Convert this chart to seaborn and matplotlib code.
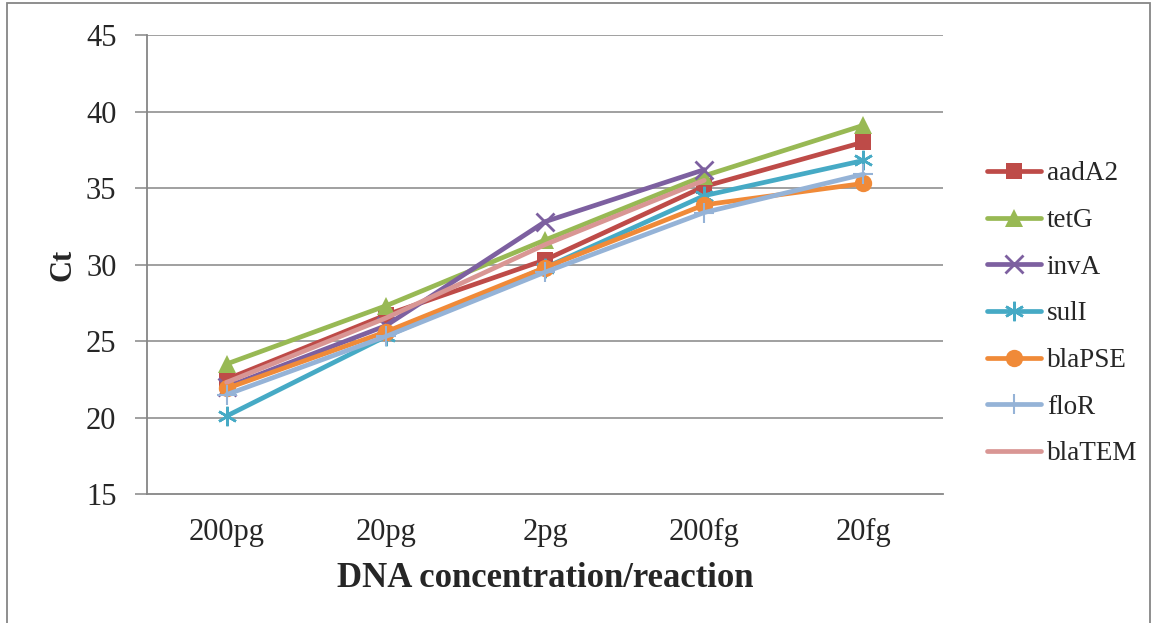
import numpy as np
import pandas as pd
import matplotlib
matplotlib.use("Agg")
import matplotlib.pyplot as plt
import seaborn as sns
from matplotlib.patches import Rectangle

# Template DNA amount per reaction (dilution series)
concentrations = ["200pg", "20pg", "2pg", "200fg", "20fg"]

# Ct values per target gene (NaN = not detected)
aadA2 = [22.5, 26.7, 30.3, 35.1, 38.0]
tetG = [23.5, 27.3, 31.6, 35.8, 39.1]
invA = [22.0, 26.0, 32.8, 36.2, np.nan]
sulI = [20.1, 25.3, 29.8, 34.5, 36.8]
blaPSE = [21.9, 25.6, 29.8, 33.9, 35.3]
floR = [21.5, 25.3, 29.5, 33.4, 35.9]
blaTEM = [22.3, 26.5, 31.3, 35.5, np.nan]

genes = ["aadA2", "tetG", "invA", "sulI", "blaPSE", "floR", "blaTEM"]
values = [aadA2, tetG, invA, sulI, blaPSE, floR, blaTEM]

colors = {
    "aadA2": "#BE4B48",
    "tetG": "#98B954",
    "invA": "#7D60A0",
    "sulI": "#46AAC5",
    "blaPSE": "#F08A38",
    "floR": "#95B3D7",
    "blaTEM": "#D99694",
}
markers = {
    "aadA2": dict(marker="s", markersize=12, markeredgewidth=0),
    "tetG": dict(marker="^", markersize=13, markeredgewidth=0),
    "invA": dict(marker="x", markersize=13, markeredgewidth=2),
    "sulI": dict(marker=(6, 2, 0), markersize=14, markeredgewidth=1.8),
    "blaPSE": dict(marker="o", markersize=12.5, markeredgewidth=0),
    "floR": dict(marker="+", markersize=15, markeredgewidth=1.5),
    "blaTEM": dict(marker="None"),
}

rows = []
for g, vals in zip(genes, values):
    for i, v in enumerate(vals):
        rows.append({"gene": g, "pos": i, "Ct": v})
df = pd.DataFrame(rows)

sns.set_style("white")
plt.rcParams["font.family"] = ["Liberation Serif", "DejaVu Serif"]

fig = plt.figure(figsize=(11.55, 6.23), dpi=100)
ax = fig.add_axes([0.1273, 0.207, 0.6892, 0.7368])

grid_col = "#868686"
for y in range(20, 50, 5):
    ax.axhline(y, color=grid_col, linewidth=1.1, zorder=0)

for g in genes:
    sub = df[df["gene"] == g].dropna()
    sns.lineplot(data=sub, x="pos", y="Ct", ax=ax, color=colors[g],
                 linewidth=3.4, label=g, solid_capstyle="round",
                 solid_joinstyle="round", markeredgecolor=colors[g],
                 **markers[g])

ax.set_xlim(-0.5, 4.5)
ax.set_ylim(15, 45)
ax.set_yticks(range(15, 50, 5))
ax.set_xticks(range(len(concentrations)))
ax.set_xticklabels(concentrations)
ax.tick_params(axis="y", direction="out", length=9, width=1.1, color=grid_col,
               labelsize=22, pad=13, left=True)
ax.tick_params(axis="x", length=0, labelsize=22, pad=17)

for s in ["top", "right"]:
    ax.spines[s].set_visible(False)
for s in ["left", "bottom"]:
    ax.spines[s].set_color(grid_col)
    ax.spines[s].set_linewidth(1.3)

ax.set_xlabel("DNA concentration/reaction", fontsize=25, fontweight="bold",
              labelpad=11)
ax.set_ylabel("Ct", fontsize=22, fontweight="bold", labelpad=6)

leg = ax.legend(loc="center left", bbox_to_anchor=(0.843, 0.496),
                bbox_transform=fig.transFigure, frameon=False, fontsize=19.5,
                handlelength=2.0, labelspacing=0.8, handletextpad=0.2,
                borderpad=0)

# outer chart border
fig.patches.append(Rectangle((7 / 1155, -0.05), 1143 / 1155, 1.05 - 3 / 623,
                             transform=fig.transFigure, fill=False,
                             edgecolor=grid_col, linewidth=1.3))

fig.savefig("out.png", dpi=100)
